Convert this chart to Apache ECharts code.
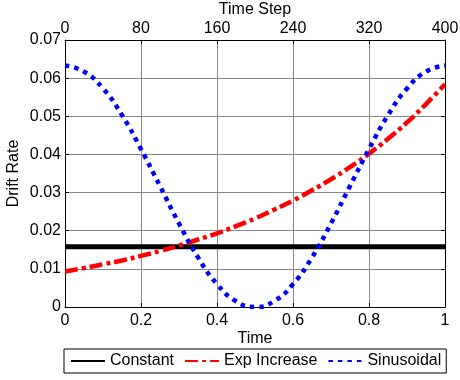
<!DOCTYPE html>
<html>
<head>
<meta charset="utf-8">
<script src="https://cdn.jsdelivr.net/npm/echarts@6/dist/echarts.min.js"></script>
<style>
  html, body { margin: 0; padding: 0; background: #fff; }
  #chart { width: 460px; height: 380px; }
</style>
</head>
<body>
<div id="chart"></div>
<script>
const timePoints = [0, 0.05, 0.1, 0.15, 0.2, 0.25, 0.3, 0.35, 0.4, 0.45, 0.5,
  0.55, 0.6, 0.65, 0.7, 0.75, 0.8, 0.85, 0.9, 0.95, 1];
const constantRate = [0.0158, 0.0158, 0.0158, 0.0158, 0.0158, 0.0158, 0.0158, 0.0158, 0.0158, 0.0158, 0.0158,
  0.0158, 0.0158, 0.0158, 0.0158, 0.0158, 0.0158, 0.0158, 0.0158, 0.0158, 0.0158];
const expRate = [0.0093, 0.0102, 0.0112, 0.0122, 0.0134, 0.0147, 0.0161, 0.0177, 0.0193, 0.0212, 0.0232,
  0.0255, 0.0279, 0.0306, 0.0335, 0.0367, 0.0402, 0.0441, 0.0484, 0.0532, 0.0584];
const sineRate = [0.0633, 0.0617, 0.0573, 0.0503, 0.0414, 0.0317, 0.0219, 0.0130, 0.0060, 0.0015, 0.0,
  0.0015, 0.0060, 0.0130, 0.0219, 0.0317, 0.0414, 0.0503, 0.0573, 0.0617, 0.0633];
const seriesNames = ["Constant", "Exp Increase", "Sinusoidal"];

const pairs = (ys) => timePoints.map((t, i) => [t, ys[i]]);
const font = "'Liberation Sans', Arial, sans-serif";

const chart = echarts.init(document.getElementById("chart"));

const axisCommon = {
  axisLine: { show: true, onZero: false, lineStyle: { color: "#000", width: 1 } },
  axisTick: { show: true, inside: true, length: 4, lineStyle: { color: "#000" } },
  axisLabel: { color: "#000", fontSize: 16, fontFamily: font },
  nameTextStyle: { color: "#000", fontSize: 16, fontFamily: font },
  nameMoveOverlap: false,
};

chart.setOption({
  animation: false,
  backgroundColor: "#fff",
  textStyle: { fontFamily: font },
  grid: { left: 65, right: 15, top: 40, bottom: 73, containLabel: false, outerBoundsMode: "none" },
  legend: {
    left: 64,
    top: 349,
    orient: "horizontal",
    data: seriesNames,
    itemWidth: 34,
    itemHeight: 6,
    itemGap: 10,
    padding: [4, 5, 4, 6],
    borderColor: "#000",
    borderWidth: 1,
    itemStyle: { opacity: 0 },
    textStyle: { color: "#000", fontSize: 16, fontFamily: font },
  },
  xAxis: [
    {
      ...axisCommon,
      type: "value",
      min: 0,
      max: 1,
      interval: 0.2,
      position: "bottom",
      name: "Time",
      nameLocation: "middle",
      nameGap: 24,
      axisLabel: { ...axisCommon.axisLabel, margin: 6 },
      splitLine: { show: true, lineStyle: { color: "#8a8a8a", width: 1 } },
    },
    {
      ...axisCommon,
      type: "value",
      min: 0,
      max: 400,
      interval: 80,
      position: "top",
      name: "Time Step",
      nameLocation: "middle",
      nameGap: 22,
      axisLabel: { ...axisCommon.axisLabel, margin: 3 },
      splitLine: { show: false },
    },
  ],
  yAxis: [
    {
      ...axisCommon,
      type: "value",
      min: 0,
      max: 0.07,
      interval: 0.01,
      position: "left",
      name: "Drift Rate",
      nameLocation: "middle",
      nameGap: 43,
      axisLabel: { ...axisCommon.axisLabel, margin: 4 },
      splitLine: { show: true, lineStyle: { color: "#8a8a8a", width: 1 } },
    },
    {
      ...axisCommon,
      type: "value",
      min: 0,
      max: 0.07,
      interval: 0.01,
      position: "right",
      axisLabel: { show: false },
      splitLine: { show: false },
    },
  ],
  series: [
    {
      name: seriesNames[0],
      type: "line",
      data: pairs(constantRate),
      showSymbol: false,
      symbol: "none",
      lineStyle: { color: "#000", width: 5 },
      itemStyle: { color: "#000" },
    },
    {
      name: seriesNames[1],
      type: "line",
      data: pairs(expRate),
      smooth: true,
      showSymbol: false,
      symbol: "none",
      lineStyle: { color: "#ff0000", width: 4.5, type: [13, 4, 4, 4], cap: "butt" },
      itemStyle: { color: "#ff0000" },
    },
    {
      name: seriesNames[2],
      type: "line",
      data: pairs(sineRate),
      smooth: true,
      showSymbol: false,
      symbol: "none",
      lineStyle: { color: "#0000ff", width: 4.5, type: [4.5, 5], cap: "butt" },
      itemStyle: { color: "#0000ff" },
    },
  ],
});
</script>
</body>
</html>
